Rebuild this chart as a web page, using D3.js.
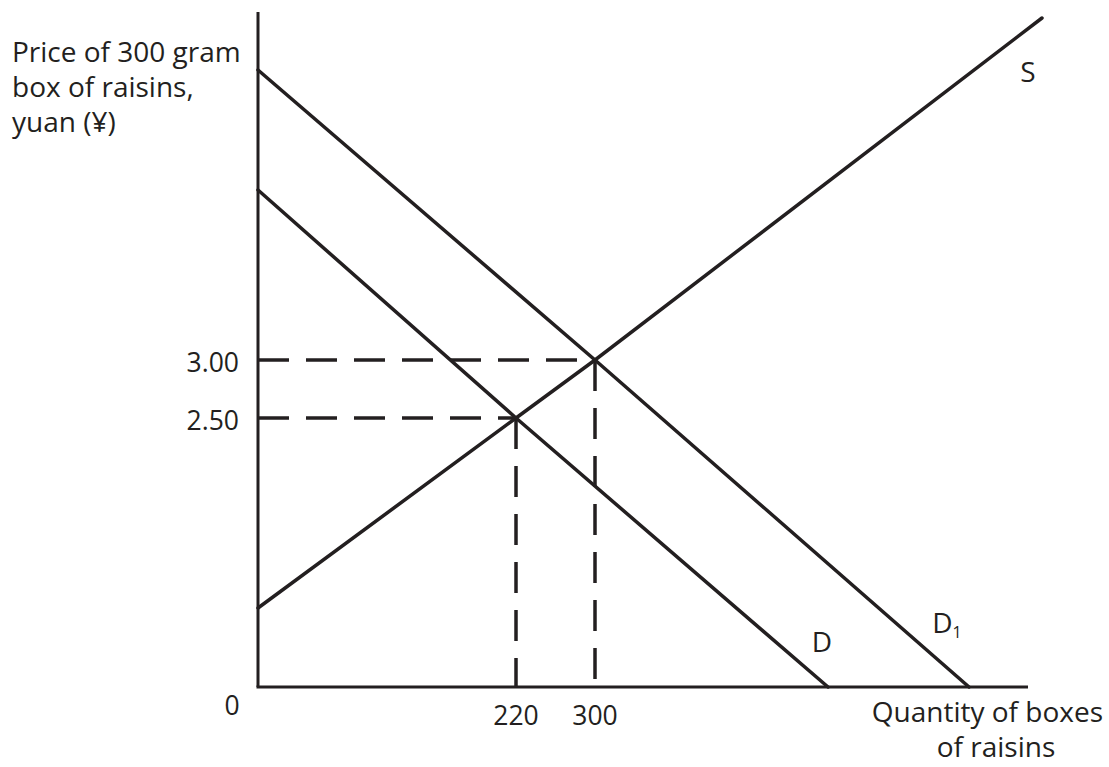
<!DOCTYPE html>
<html>
<head>
<meta charset="utf-8">
<script src="https://cdn.jsdelivr.net/npm/d3@7"></script>
<style>
  html, body { margin: 0; padding: 0; background: #fff; }
  svg { display: block; }
  text { font-family: "Open Sans", "Noto Sans", sans-serif; fill: #231f20; }
</style>
</head>
<body>
<svg id="chart" width="1109" height="767"></svg>
<script>
// Schematic chart units (the original diagram is not drawn to a linear scale)
const supplyS   = [[0, 79], [258, 269], [337, 327], [784, 669]];
const demandD   = [[0, 497], [258, 269], [570, 0]];
const demandD1  = [[0, 617], [337, 327], [711, 0]];
const equilibria = [[258, 269], [337, 327]];
const xTicks = [{ pos: 258, label: "220" }, { pos: 337, label: "300" }];
const yTicks = [{ pos: 269, label: "2.50" }, { pos: 327, label: "3.00" }];
const yTitle = ["Price of 300 gram", "box of raisins,", "yuan (¥)"];
const xTitle = ["Quantity of boxes", "of raisins"];
const curveLabels = [
  { name: "S", sub: "", x: 770, y: 615 },
  { name: "D", sub: "", x: 564, y: 45 },
  { name: "D", sub: "1", x: 689, y: 64 }
];

const ink = "#231f20";
const svg = d3.select("#chart");
const x = d3.scaleLinear().domain([0, 770]).range([258, 1028]);
const y = d3.scaleLinear().domain([0, 675]).range([687, 12]);

// axes
svg.append("line").attr("x1", x(0)).attr("x2", x(0)).attr("y1", y(675)).attr("y2", y(0))
  .attr("stroke", ink).attr("stroke-width", 3);
svg.append("line").attr("x1", x(0) - 1.5).attr("x2", x(770)).attr("y1", y(0)).attr("y2", y(0))
  .attr("stroke", ink).attr("stroke-width", 3);

// dashed guides from equilibrium points
const dash = "31 17";
equilibria.forEach(([qx, py]) => {
  svg.append("line").attr("x1", x(0)).attr("x2", x(qx)).attr("y1", y(py)).attr("y2", y(py))
    .attr("stroke", ink).attr("stroke-width", 3.5).attr("stroke-dasharray", dash);
  svg.append("line").attr("x1", x(qx)).attr("x2", x(qx)).attr("y1", y(py)).attr("y2", y(0))
    .attr("stroke", ink).attr("stroke-width", 3.5).attr("stroke-dasharray", dash);
});

// curves
const line = d3.line().x(d => x(d[0])).y(d => y(d[1]));
[supplyS, demandD, demandD1].forEach(data => {
  svg.append("path").attr("d", line(data)).attr("fill", "none")
    .attr("stroke", ink).attr("stroke-width", 3.5).attr("stroke-linecap", "round");
});

// tick labels
const fs = 28;
yTicks.forEach(t => {
  svg.append("text").attr("x", 239).attr("y", y(t.pos) + 12)
    .attr("text-anchor", "end").attr("font-size", 26.5).text(t.label);
});
xTicks.forEach(t => {
  svg.append("text").attr("x", x(t.pos)).attr("y", 725)
    .attr("text-anchor", "middle").attr("font-size", 26.5).text(t.label);
});
svg.append("text").attr("x", 232).attr("y", 715).attr("text-anchor", "middle")
  .attr("font-size", 26.5).text("0");

// axis titles
yTitle.forEach((s, i) => {
  svg.append("text").attr("x", 12).attr("y", 62 + i * 35).attr("font-size", fs).text(s);
});
svg.append("text").attr("x", 1103).attr("y", 722).attr("text-anchor", "end")
  .attr("font-size", fs).text(xTitle[0]);
svg.append("text").attr("x", 996).attr("y", 757).attr("text-anchor", "middle")
  .attr("font-size", fs).text(xTitle[1]);

// curve labels
curveLabels.forEach(c => {
  const t = svg.append("text").attr("x", x(c.x)).attr("y", y(c.y) + 10)
    .attr("text-anchor", "middle").attr("font-size", fs);
  t.append("tspan").text(c.name);
  if (c.sub) t.append("tspan").attr("font-size", 16).attr("dy", 5).text(c.sub);
});
</script>
</body>
</html>
